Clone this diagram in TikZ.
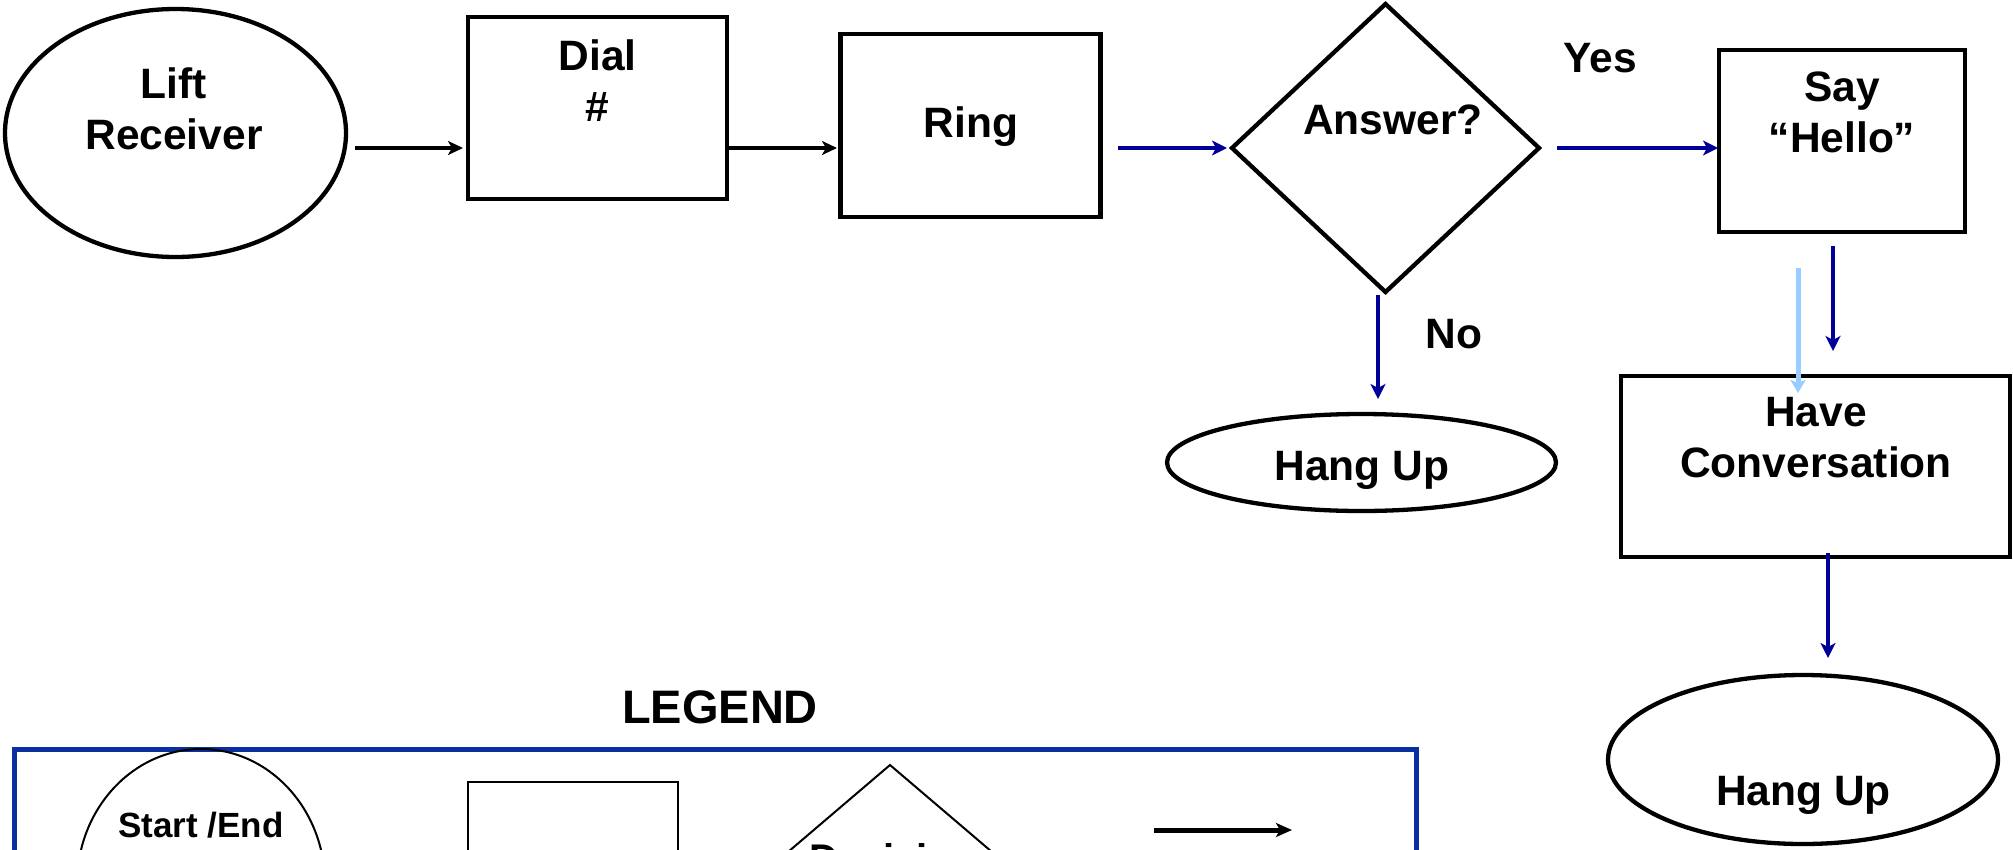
\documentclass[tikz,border=0pt]{standalone}
\usepackage{fontspec}
\setmainfont{Liberation Sans}
\usetikzlibrary{arrows.meta,shapes.geometric}
\definecolor{myNavy}{HTML}{000099}
\definecolor{myLight}{HTML}{99CCFF}
\definecolor{myLegend}{HTML}{0A30A0}
\begin{document}
\begin{tikzpicture}[x=1pt,y=-1pt,
  box/.style={draw=black, line width=4.3pt, rectangle, inner sep=0pt, outer sep=0pt},
  oval/.style={draw=black, line width=4.3pt, ellipse, inner sep=0pt, outer sep=0pt},
  dia/.style={draw=black, line width=4.3pt, diamond, inner sep=0pt, outer sep=0pt},
  thinbox/.style={draw=black, line width=2pt, rectangle, inner sep=0pt, outer sep=0pt},
  thinoval/.style={draw=black, line width=2pt, ellipse, inner sep=0pt, outer sep=0pt},
  thindia/.style={draw=black, line width=2pt, diamond, inner sep=0pt, outer sep=0pt},
  lbl/.style={font=\bfseries\fontsize{42.5}{51}\selectfont, align=center, inner sep=0pt, outer sep=0pt},
  smalllbl/.style={font=\bfseries\fontsize{35}{42}\selectfont, align=center, inner sep=0pt, outer sep=0pt},
  blk/.style={-{Stealth[length=15pt,width=14pt,inset=4pt]}, line width=4pt, draw=black},
  blu/.style={-{Stealth[length=15pt,width=15pt,inset=4pt]}, line width=4.5pt, draw=myNavy},
  lblu/.style={-{Stealth[length=13pt,width=15pt,inset=3pt]}, line width=5pt, draw=myLight},
  legarrow/.style={-{Stealth[length=16pt,width=14pt,inset=4pt]}, line width=5pt, draw=black}
]
\useasboundingbox (0,0) rectangle (2013,849);
\clip (0,0) rectangle (2013,849);

% ---- flowchart shapes ----
\node[oval, minimum width=341, minimum height=248] (lift) at (175.5,133) {};
\node[box, minimum width=259, minimum height=182] (dial) at (597.5,108) {};
\node[box, minimum width=260, minimum height=183] (ring) at (970.5,125.5) {};
\node[dia, minimum width=307, minimum height=288] (ans) at (1385.5,148) {};
\node[box, minimum width=246, minimum height=182] (hello) at (1842,141) {};
\node[box, minimum width=389, minimum height=181] (conv) at (1815.5,466.5) {};
\node[oval, minimum width=389, minimum height=97] (hang1) at (1361.5,462.5) {};
\node[oval, minimum width=390, minimum height=169] (hang2) at (1803,759.5) {};

% ---- texts ----
\node[lbl] (tlift) at (174,109) {Lift\\Receiver};
\node[lbl] (tdial) at (597.5,81) {Dial\\\#};
\node[lbl, anchor=base] (tring) at (971,137) {Ring};
\node[lbl, anchor=base] (tans) at (1393,134) {Answer?};
\node[lbl, anchor=base] (tyes) at (1600,72) {Yes};
\node[lbl] (thello) at (1842,112) {Say\\“Hello”};
\node[lbl] (tconv) at (1816,438) {Have\\Conversation};
\node[lbl, anchor=base] (thang1) at (1362,480) {Hang Up};
\node[lbl, anchor=base] (tno) at (1454,348) {No};
\node[lbl, anchor=base] (thang2) at (1803.5,805) {Hang Up};

% ---- connectors ----
\draw[blk, shorten <=9pt, shorten >=5pt] ([yshift=-15pt]lift.east) -- ([yshift=-40pt]dial.west);
\draw[blk, shorten >=3.5pt] ([yshift=-40pt]dial.east) -- ([yshift=-22.5pt]ring.west);
\draw[blu, shorten <=17.5pt, shorten >=5pt] ([yshift=-22.5pt]ring.east) -- (ans.west);
\draw[blu, shorten <=18pt, shorten >=1pt] (ans.east) -- ([yshift=-7pt]hello.west);
\draw[blu, shorten <=3pt, shorten >=15pt] ([xshift=-7.5pt]ans.south) -- ([xshift=16.5pt]hang1.north);
\draw[lblu, shorten <=36pt, shorten >=-17pt] ([xshift=-44pt]hello.south) -- ([xshift=-17.5pt]conv.north);
\draw[blu, shorten <=14pt, shorten >=25pt] ([xshift=-9pt]hello.south) -- ([xshift=17.5pt]conv.north);
\draw[blu, shorten <=-4pt, shorten >=17pt] ([xshift=12.5pt]conv.south) -- ([xshift=25pt]hang2.north);

% ---- legend ----
\node[font=\bfseries\fontsize{47}{56}\selectfont, inner sep=0pt, anchor=base] (tlegend) at (720,723) {LEGEND};
\node[draw=myLegend, line width=5pt, rectangle, inner sep=0pt, outer sep=0pt,
      minimum width=1402, minimum height=302] (legend) at (715,900) {};
\node[thinoval, minimum width=248, minimum height=270] (lstart) at (201,884) {};
\node[smalllbl, anchor=base] (tstart) at (201,837) {Start /End};
\node[thinbox, minimum width=210, minimum height=150] (lproc) at (573,857) {};
\node[thindia, minimum width=258, minimum height=220] (ldec) at (890,875) {};
\node[font=\bfseries\fontsize{40}{48}\selectfont, inner sep=0pt, anchor=base] (tdec) at (893,872) {Decision};
\coordinate (la1) at (1154,830);
\coordinate (la2) at (1292,830);
\draw[legarrow] (la1) -- (la2);
\end{tikzpicture}
\end{document}
